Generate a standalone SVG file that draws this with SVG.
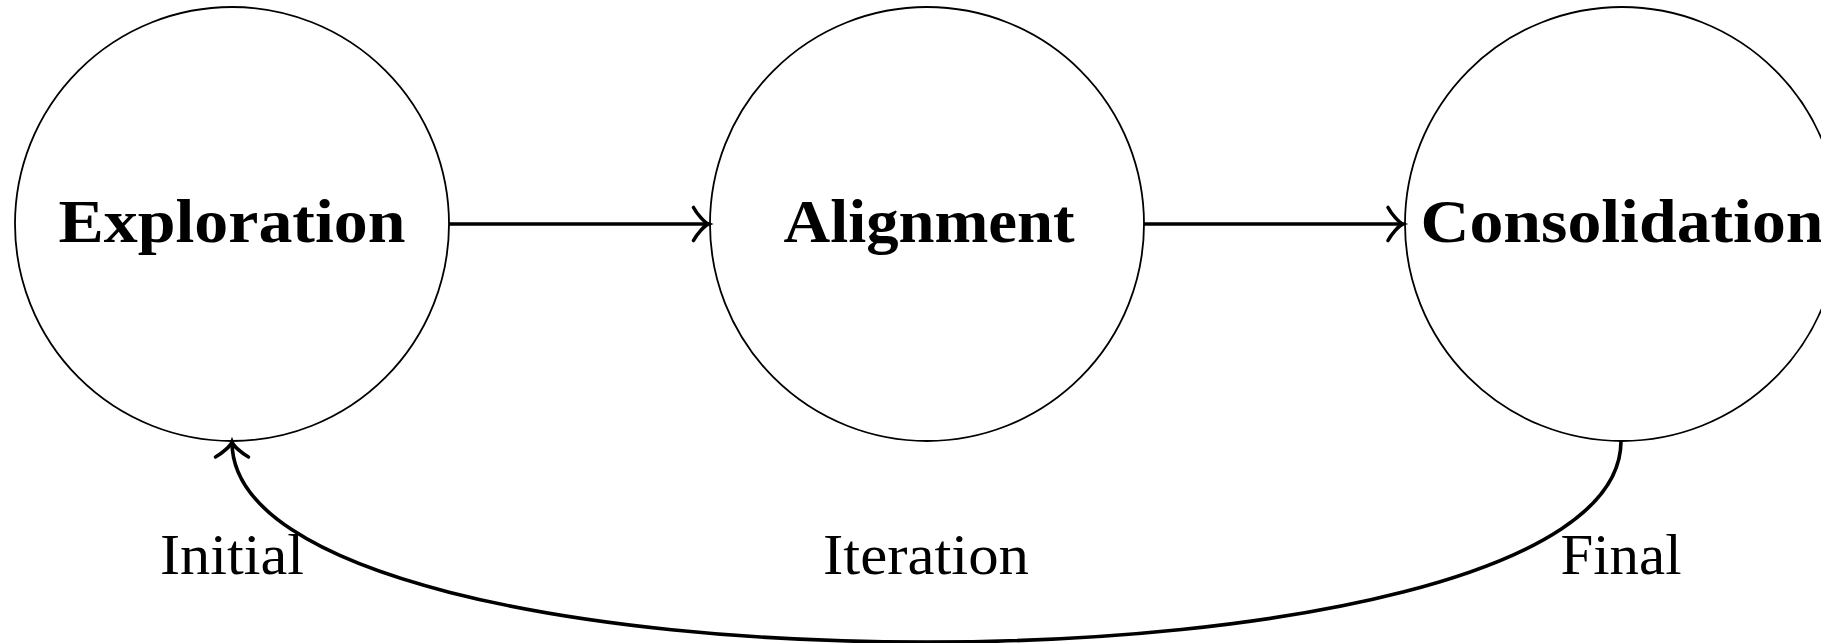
<svg xmlns="http://www.w3.org/2000/svg" width="1821" height="643" viewBox="0 0 1821 643">
<style>
  .node { fill: #ffffff; stroke: #000000; stroke-width: 1.8; }
  .title { font-family: "Liberation Serif", "Times New Roman", serif; font-weight: bold; font-size: 62px; fill: #000000; text-anchor: middle; }
  .label { font-family: "Liberation Serif", "Times New Roman", serif; font-size: 56px; fill: #000000; text-anchor: middle; }
  .edge { fill: none; stroke: #000000; stroke-width: 3.6; }
</style>
<defs>
  <marker id="to" markerUnits="userSpaceOnUse" viewBox="-20 -20 24 40" refX="0" refY="0" markerWidth="24" markerHeight="40" orient="auto" overflow="visible">
    <path d="M -15,-16.5 C -11.5,-10 -4,-1.5 0,0 C -4,1.5 -11.5,10 -15,16.5" fill="none" stroke="#000000" stroke-width="3.6" stroke-linecap="round"/>
  </marker>
</defs>
<rect x="0" y="0" width="1821" height="643" fill="#ffffff"/>
<g id="exploration">
  <circle class="node" cx="232" cy="224" r="217"/>
  <text class="title" x="232" y="241.5" textLength="347" lengthAdjust="spacingAndGlyphs">Exploration</text>
</g>
<g id="alignment">
  <circle class="node" cx="927" cy="224" r="217"/>
  <text class="title" x="929" y="241.5" textLength="291" lengthAdjust="spacingAndGlyphs">Alignment</text>
</g>
<g id="consolidation">
  <circle class="node" cx="1622" cy="224" r="217"/>
  <text class="title" x="1622" y="241.5" textLength="403" lengthAdjust="spacingAndGlyphs">Consolidation</text>
</g>
<g id="connectors">
  <path class="edge" d="M 449,224 L 708.5,224" marker-end="url(#to)"/>
  <path class="edge" d="M 1144,224 L 1403,224" marker-end="url(#to)"/>
  <path class="edge" d="M 1621,441 C 1621,709 232,709 232,442" marker-end="url(#to)"/>
</g>
<g id="labels">
  <text class="label" x="232" y="574" textLength="144" lengthAdjust="spacingAndGlyphs">Initial</text>
  <text class="label" x="926" y="574" textLength="206" lengthAdjust="spacingAndGlyphs">Iteration</text>
  <text class="label" x="1621" y="574" textLength="121" lengthAdjust="spacingAndGlyphs">Final</text>
</g>
</svg>
